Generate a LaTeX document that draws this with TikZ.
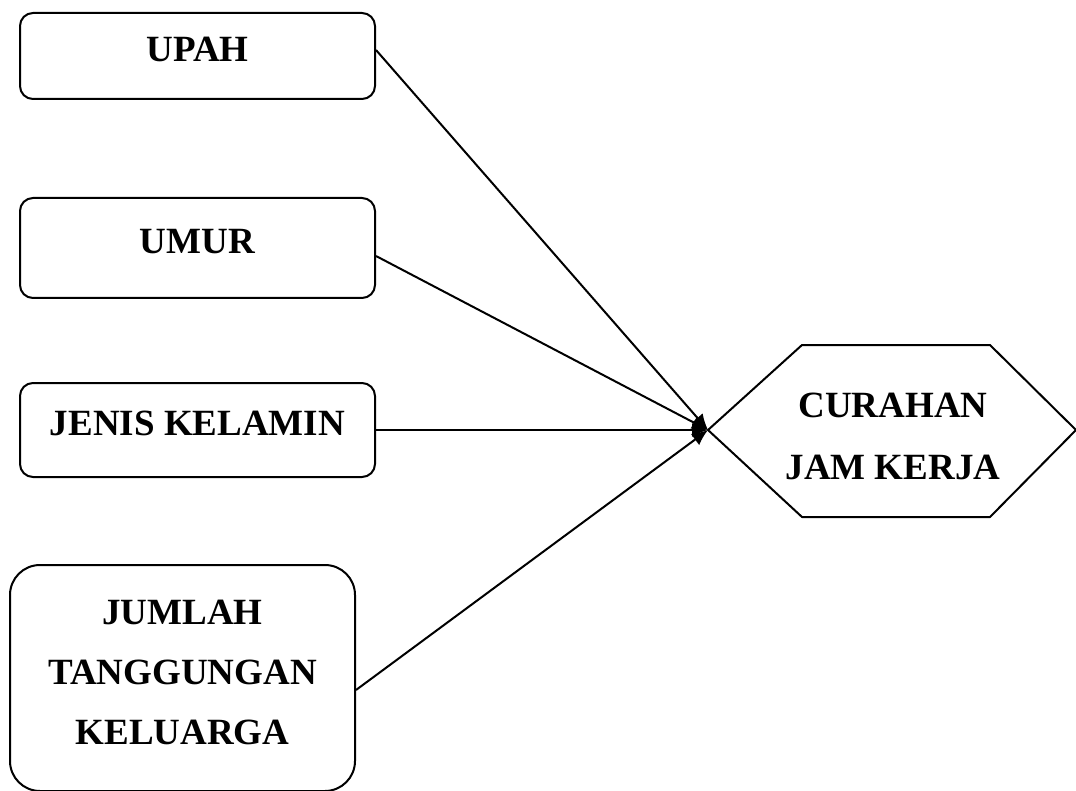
\documentclass[tikz,border=0pt]{standalone}
\usepackage{fontspec}
\setmainfont{Liberation Serif}
\usetikzlibrary{arrows.meta}

\begin{document}
\begin{tikzpicture}[x=0.5pt, y=-0.5pt, >=Latex, line join=round,
	font=\fontsize{18.5}{31}\selectfont\bfseries,
	varbox/.style={draw, line width=1pt, rounded corners=6.5pt, align=center,
		inner sep=0pt, minimum width=177.5pt, minimum height=#1, text depth=7pt},
	bigbox/.style={draw, line width=1pt, rounded corners=15pt, align=center,
		inner sep=0pt, minimum width=172.5pt, minimum height=113pt, text depth=6pt,
		font=\fontsize{18.5}{30}\selectfont\bfseries},
	link/.style={line width=1pt, -{Latex[length=8pt,width=7pt]}}]
	
	\useasboundingbox (0,0) rectangle (1076,791);
	
	%========================
	% Left: independent variables
	%========================
	\node[varbox=43pt] (upah) at (197.5,56) {UPAH};
	\node[varbox=50pt] (umur) at (197.5,248) {UMUR};
	\node[varbox=47pt] (jenis) at (197.5,430) {JENIS KELAMIN};
	\node[bigbox] (jumlah) at (182.5,678) {JUMLAH\\TANGGUNGAN\\KELUARGA};
	
	%========================
	% Right: dependent variable (hexagon)
	%========================
	\coordinate (tip) at (708,430);
	\draw[line width=1pt] (tip) -- (802,345) -- (990,345) -- (1076,430)
		-- (990,517) -- (802,517) -- cycle;
	\node[align=center] (curahan) at (893,436) {CURAHAN\\JAM KERJA};
	
	% arrows
	\draw[link] ([yshift=3pt]upah.east) -- (tip);
	\draw[link] ([yshift=-4pt]umur.east) -- (tip);
	\draw[link] (jenis.east) -- (tip);
	\draw[link] ([yshift=-6pt]jumlah.east) -- (tip);
	
\end{tikzpicture}
\end{document}
